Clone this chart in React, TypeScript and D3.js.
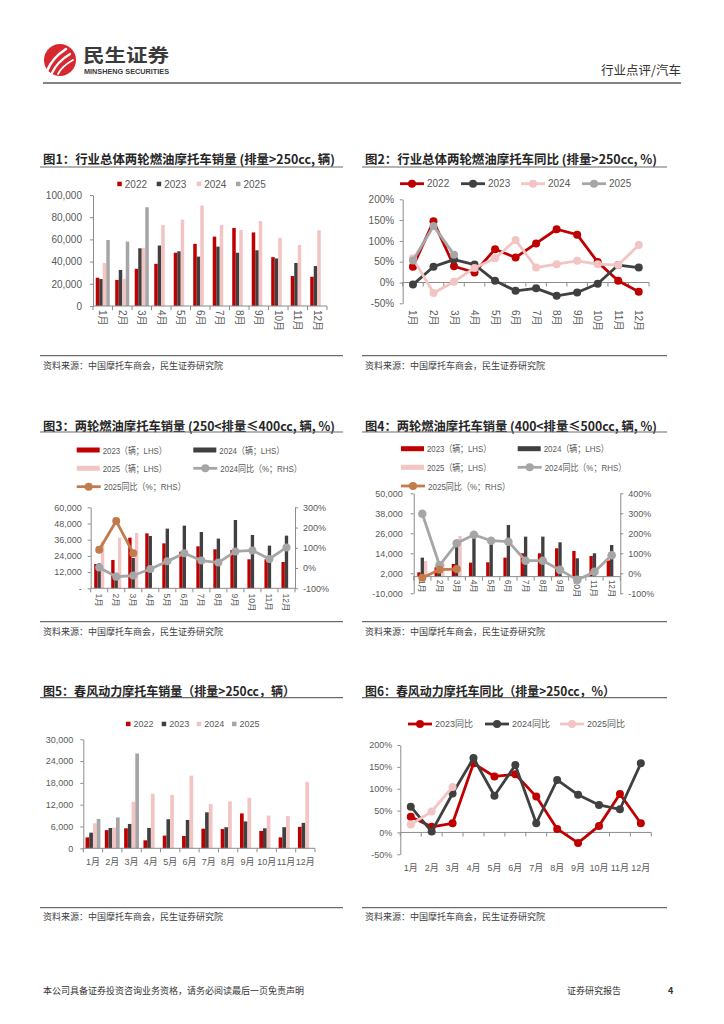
import * as d3 from 'd3';
import { useEffect, useRef } from 'react';

const months = ['1月', '2月', '3月', '4月', '5月', '6月', '7月', '8月', '9月', '10月', '11月', '12月'];

// 图1 行业总体 >250cc 销量 (辆)
const c1Years = ['2022', '2023', '2024', '2025'];
const c1v2022 = [25500, 23500, 33500, 38000, 48000, 56000, 62500, 70300, 66300, 44000, 27000, 26300];
const c1v2023 = [24300, 32500, 52000, 54500, 49300, 44500, 53500, 48000, 50200, 42800, 38800, 36000];
const c1v2024 = [38700, 24500, 52500, 73000, 77800, 90500, 73000, 68500, 76500, 61300, 55000, 68200];
const c1v2025 = [59500, 58000, 89000];
const c1Ticks = [0, 20000, 40000, 60000, 80000, 100000];

// 图2 行业总体同比 (%)
const c2y2022 = [38, 147, 39, 24, 80, 60, 94, 128, 115, 49, 4, -22];
const c2y2023 = [-5, 38, 55, 43, 4, -20, -14, -32, -24, -3, 42, 36];
const c2y2024 = [58, -25, 2, 35, 58, 102, 36, 44, 52, 44, 42, 90];
const c2y2025 = [53, 136, 67];
const pctTicks250 = [-50, 0, 50, 100, 150, 200];

// 图3 250<排量≤400cc
const c3v2023 = [18000, 21000, 37500, 40700, 33300, 27200, 31100, 28900, 28400, 21500, 21500, 19500];
const c3v2024 = [18500, 11500, 22500, 38800, 44200, 46400, 41700, 36800, 50600, 39500, 31600, 39000];
const c3v2025 = [34500, 37500, 41000];
const c3yoy2024 = [3, -43, -37, -5, 33, 73, 37, 27, 82, 87, 45, 102];
const c3yoy2025 = [90, 232, 73];
const c3LeftTicks = [0, 12000, 24000, 36000, 48000, 60000];
const c3RightTicks = [-100, 0, 100, 200, 300];

// 图4 400<排量≤500cc
const c4v2023 = [2600, 5600, 7600, 8400, 8600, 11400, 14000, 14000, 17000, 15400, 12400, 9700];
const c4v2024 = [11400, 7500, 18000, 24000, 22000, 31000, 24000, 24000, 20600, 11000, 14000, 19000];
const c4v2025 = [9400, 8500, 24400];
const c4yoy2024 = [298, 40, 150, 193, 163, 158, 63, 63, 17, -33, 8, 90];
const c4yoy2025 = [-22, 18, 21];
const c4LeftTicks = [-10000, 2000, 14000, 26000, 38000, 50000];
const c4RightTicks = [-100, 0, 100, 200, 300, 400];

// 图5 春风动力销量 (辆)
const c5v2022 = [3000, 5000, 5500, 2200, 3500, 3400, 5400, 5300, 9600, 4800, 3000, 5900];
const c5v2023 = [4300, 5600, 6700, 5600, 8000, 7800, 9900, 5800, 7400, 5500, 5800, 7000];
const c5v2024 = [6900, 5700, 12800, 15000, 14700, 20000, 12200, 12900, 13900, 9000, 8900, 18300];
const c5v2025 = [8100, 8500, 26100];
const c5Ticks = [0, 6000, 12000, 18000, 24000, 30000];

// 图6 春风动力同比 (%)
const c6yoy2023 = [36, 13, 21, 158, 128, 133, 82, 8, -24, 15, 88, 21];
const c6yoy2024 = [59, 2, 89, 170, 84, 154, 21, 120, 86, 63, 53, 158];
const c6yoy2025 = [18, 48, 104];

const RED = '#C00000';
const DARK = '#404040';
const PINK = '#F2C4C4';
const GREY = '#A6A6A6';
const BROWN = '#C27B4C';
const AXIS = '#8C8C8C';
const LABEL = '#595959';
const FONT = '"Liberation Sans", "Noto Sans CJK SC", sans-serif';
const CJK = '"Noto Sans CJK SC", sans-serif';

const fmtComma = d3
  .formatLocale({ decimal: '.', thousands: ',', grouping: [3], currency: ['', ''], minus: '-' })
  .format(',');
const fmtPct = (d: any) => `${d}%`;

const monthBand = (x0: number, x1: number, inner: number) =>
  d3.scaleBand<string>().domain(months).range([x0, x1]).paddingInner(inner).paddingOuter(inner / 2);

const styleAxis = (ax: any, fontSize: number) => {
  ax.attr('font-family', FONT).attr('font-size', fontSize);
  ax.select('.domain').attr('stroke', AXIS);
  ax.selectAll('line').attr('stroke', AXIS);
  ax.selectAll('text').attr('fill', LABEL);
};

const valueAxis = (g: any, side: 'left' | 'right', y: any, x: number, ticks: number[], fmt: any, pad: number, fs: number) => {
  const gen = side === 'left' ? d3.axisLeft(y) : d3.axisRight(y);
  gen.tickValues(ticks).tickFormat(fmt).tickSize(3).tickSizeOuter(0).tickPadding(pad);
  const ax = g.append('g').attr('transform', `translate(${x},0)`).call(gen);
  styleAxis(ax, fs);
};

const catAxis = (g: any, xb: any, yLine: number, labelY: number, rotate: boolean, fs: number) => {
  const [r0, r1] = xb.range();
  const step = xb.step();
  g.append('line').attr('x1', r0).attr('x2', r1).attr('y1', yLine).attr('y2', yLine).attr('stroke', AXIS);
  g.append('g')
    .selectAll('line')
    .data(d3.range(months.length + 1).map((i) => r0 + i * step))
    .enter()
    .append('line')
    .attr('x1', (d: number) => d)
    .attr('x2', (d: number) => d)
    .attr('y1', yLine)
    .attr('y2', yLine + 4)
    .attr('stroke', AXIS);
  const t = g
    .append('g')
    .selectAll('text')
    .data(months)
    .enter()
    .append('text')
    .text((d: string) => d)
    .attr('font-size', fs)
    .attr('font-family', FONT)
    .attr('fill', LABEL)
    .attr('dominant-baseline', 'central');
  const cx = (d: string) => xb(d) + xb.bandwidth() / 2;
  if (rotate) t.attr('transform', (d: string) => `translate(${cx(d)},${labelY}) rotate(90)`);
  else t.attr('x', cx).attr('y', labelY).attr('text-anchor', 'middle');
};

const bars = (g: any, xb: any, y: any, series: { values: number[]; color: string }[]) => {
  const inner = d3.scaleBand<number>().domain(d3.range(series.length)).range([0, xb.bandwidth()]);
  series.forEach((s, si) => {
    g.append('g')
      .selectAll('rect')
      .data(s.values)
      .enter()
      .append('rect')
      .attr('x', (_: number, i: number) => xb(months[i]) + inner(si))
      .attr('width', inner.bandwidth())
      .attr('y', (d: number) => Math.min(y(d), y(0)))
      .attr('height', (d: number) => Math.abs(y(0) - y(d)))
      .attr('fill', s.color);
  });
};

const lineSeries = (g: any, xb: any, y: any, values: number[], color: string, w: number, r: number) => {
  const cx = (i: number) => xb(months[i]) + xb.bandwidth() / 2;
  const line = d3
    .line<number>()
    .x((_, i) => cx(i))
    .y((d) => y(d));
  g.append('path')
    .attr('d', line(values))
    .attr('fill', 'none')
    .attr('stroke', color)
    .attr('stroke-width', w)
    .attr('stroke-linejoin', 'round');
  g.append('g')
    .selectAll('circle')
    .data(values)
    .enter()
    .append('circle')
    .attr('cx', (_: number, i: number) => cx(i))
    .attr('cy', (d: number) => y(d))
    .attr('r', r)
    .attr('fill', color);
};

const frame = (
  g: any,
  x0: number,
  x1: number,
  title: string,
  titleY: number,
  titleLen: number,
  ruleY: number,
  srcRuleY: number,
  srcY: number,
) => {
  g.append('text')
    .text(title)
    .attr('x', x0 + 3)
    .attr('y', titleY)
    .attr('dominant-baseline', 'central')
    .attr('font-family', CJK)
    .attr('font-weight', 700)
    .attr('font-size', 12.5)
    .attr('fill', '#262626')
    .attr('textLength', titleLen)
    .attr('lengthAdjust', 'spacingAndGlyphs');
  [ruleY, srcRuleY].forEach((yy) =>
    g.append('line').attr('x1', x0).attr('x2', x1).attr('y1', yy).attr('y2', yy).attr('stroke', '#6b6b6b').attr('stroke-width', 1.2),
  );
  g.append('text')
    .text('资料来源：中国摩托车商会，民生证券研究院')
    .attr('x', x0 + 3)
    .attr('y', srcY)
    .attr('dominant-baseline', 'central')
    .attr('font-family', CJK)
    .attr('font-size', 9)
    .attr('fill', '#404040');
};

const squareLegend = (g: any, items: { label: string; color: string; x: number }[], y: number, fs: number) => {
  items.forEach((it) => {
    g.append('rect').attr('x', it.x).attr('y', y - 2.3).attr('width', 4.5).attr('height', 4.5).attr('fill', it.color);
    g.append('text')
      .text(it.label)
      .attr('x', it.x + 7.5)
      .attr('y', y)
      .attr('dominant-baseline', 'central')
      .attr('font-family', FONT)
      .attr('font-size', fs)
      .attr('fill', LABEL);
  });
};

const lineLegend = (
  g: any,
  items: { label: string; color: string; x: number; y: number; len?: number }[],
  fs: number,
  w: number,
  r: number,
) => {
  items.forEach((it) => {
    g.append('line').attr('x1', it.x).attr('x2', it.x + 24).attr('y1', it.y).attr('y2', it.y).attr('stroke', it.color).attr('stroke-width', w);
    g.append('circle').attr('cx', it.x + 12).attr('cy', it.y).attr('r', r).attr('fill', it.color);
    const t = g
      .append('text')
      .text(it.label)
      .attr('x', it.x + 27)
      .attr('y', it.y)
      .attr('dominant-baseline', 'central')
      .attr('font-family', FONT)
      .attr('font-size', fs)
      .attr('fill', LABEL);
    if (it.len) t.attr('textLength', it.len).attr('lengthAdjust', 'spacingAndGlyphs');
  });
};

const barLegend = (g: any, items: { label: string; color: string; x: number; y: number; len: number }[]) => {
  items.forEach((it) => {
    g.append('rect').attr('x', it.x).attr('y', it.y - 2.5).attr('width', 23).attr('height', 5).attr('fill', it.color);
    g.append('text')
      .text(it.label)
      .attr('x', it.x + 26)
      .attr('y', it.y)
      .attr('dominant-baseline', 'central')
      .attr('font-family', FONT)
      .attr('font-size', 9.5)
      .attr('fill', LABEL)
      .attr('textLength', it.len)
      .attr('lengthAdjust', 'spacingAndGlyphs');
  });
};

const App = () => {
  const ref = useRef<SVGSVGElement>(null);

  useEffect(() => {
    const svg = d3.select(ref.current);
    svg.selectAll('*').remove();

    // header
    const hd = svg.append('g');
    hd.append('circle').attr('cx', 60).attr('cy', 60).attr('r', 16).attr('fill', '#D7282F');
    ['M47 71 Q52 58 66 49', 'M52 73 Q57 62 70 54', 'M58 74 Q62 66 73 60'].forEach((p, i) =>
      hd.append('path').attr('d', p).attr('fill', 'none').attr('stroke', '#fff').attr('stroke-width', 2.6 - i * 0.4).attr('stroke-linecap', 'round'),
    );
    hd.append('text')
      .text('民生证券')
      .attr('x', 83)
      .attr('y', 54)
      .attr('dominant-baseline', 'central')
      .attr('font-family', CJK)
      .attr('font-weight', 700)
      .attr('font-size', 18)
      .attr('fill', '#3a3a3a')
      .attr('textLength', 86)
      .attr('lengthAdjust', 'spacingAndGlyphs');
    hd.append('text')
      .text('MINSHENG SECURITIES')
      .attr('x', 84)
      .attr('y', 71.5)
      .attr('dominant-baseline', 'central')
      .attr('font-family', FONT)
      .attr('font-weight', 700)
      .attr('font-size', 6.8)
      .attr('fill', '#3a3a3a')
      .attr('textLength', 85)
      .attr('lengthAdjust', 'spacingAndGlyphs');
    hd.append('text')
      .text('行业点评/汽车')
      .attr('x', 681)
      .attr('y', 69)
      .attr('text-anchor', 'end')
      .attr('dominant-baseline', 'central')
      .attr('font-family', CJK)
      .attr('font-size', 12.5)
      .attr('fill', '#333');
    hd.append('line').attr('x1', 43).attr('x2', 681).attr('y1', 83).attr('y2', 83).attr('stroke', '#595959').attr('stroke-width', 1.5);

    // 图1
    {
      const g = svg.append('g');
      frame(g, 40, 343, '图1：行业总体两轮燃油摩托车销量 (排量>250cc, 辆)', 158, 292, 167, 355.7, 365);
      const xb = monthBand(93, 327, 0.28);
      const y = d3.scaleLinear([0, 100000], [306, 195]);
      bars(g, xb, y, [
        { values: c1v2022, color: RED },
        { values: c1v2023, color: DARK },
        { values: c1v2024, color: PINK },
        { values: c1v2025, color: GREY },
      ]);
      valueAxis(g, 'left', y, 93, c1Ticks, fmtComma, 8, 10);
      catAxis(g, xb, 306, 310, true, 10);
      squareLegend(
        g,
        c1Years.map((label, i) => ({ label, color: [RED, DARK, PINK, GREY][i], x: [117.3, 156.7, 196.7, 236][i] })),
        184,
        10,
      );
    }

    // 图2
    {
      const g = svg.append('g');
      frame(g, 362, 667, '图2：行业总体两轮燃油摩托车同比 (排量>250cc, %)', 158, 292, 167, 355.7, 365);
      const xb = monthBand(402.7, 649, 0);
      const y = d3.scaleLinear([-50, 200], [303.3, 199.3]);
      valueAxis(g, 'left', y, 402.7, pctTicks250, fmtPct, 5.5, 10);
      catAxis(g, xb, y(0), 310, true, 10);
      lineSeries(g, xb, y, c2y2022, RED, 2.8, 4);
      lineSeries(g, xb, y, c2y2023, DARK, 2.8, 4);
      lineSeries(g, xb, y, c2y2024, PINK, 2.8, 4);
      lineSeries(g, xb, y, c2y2025, GREY, 2.8, 4);
      lineLegend(
        g,
        c1Years.map((label, i) => ({ label, color: [RED, DARK, PINK, GREY][i], x: [400, 461, 521, 582][i], y: 183.7 })),
        10,
        2.8,
        4,
      );
    }

    // 图3
    {
      const g = svg.append('g');
      frame(g, 40, 343, '图3：两轮燃油摩托车销量 (250<排量≤400cc, 辆, %)', 425, 292, 432, 621.7, 631.7);
      const xb = monthBand(90.7, 295, 0.41);
      const yL = d3.scaleLinear([0, 60000], [588.3, 507.3]);
      const yR = d3.scaleLinear([-100, 300], [588.3, 507.3]);
      bars(g, xb, yL, [
        { values: c3v2023, color: RED },
        { values: c3v2024, color: DARK },
        { values: c3v2025, color: PINK },
      ]);
      valueAxis(g, 'left', yL, 90.7, c3LeftTicks, (d: any) => (d === 0 ? '-' : fmtComma(d)), 6, 9);
      valueAxis(g, 'right', yR, 295, c3RightTicks, fmtPct, 5, 9);
      catAxis(g, xb, 588.3, 593.5, true, 8.5);
      lineSeries(g, xb, yR, c3yoy2024, GREY, 2.8, 4);
      lineSeries(g, xb, yR, c3yoy2025, BROWN, 2.8, 4);
      barLegend(g, [
        { label: '2023（辆；LHS）', color: RED, x: 76.7, y: 450, len: 64 },
        { label: '2024（辆；LHS）', color: DARK, x: 193.3, y: 450, len: 65 },
        { label: '2025（辆；LHS）', color: PINK, x: 76.7, y: 468.3, len: 64 },
      ]);
      lineLegend(
        g,
        [
          { label: '2024同比（%；RHS）', color: GREY, x: 193.3, y: 468.3, len: 81.5 },
          { label: '2025同比（%；RHS）', color: BROWN, x: 76.7, y: 486.7, len: 82 },
        ],
        9.5,
        2.8,
        4,
      );
    }

    // 图4
    {
      const g = svg.append('g');
      frame(g, 362, 667, '图4：两轮燃油摩托车销量 (400<排量≤500cc, 辆, %)', 425, 292, 432, 621.7, 631.7);
      const xb = monthBand(413.7, 620.3, 0.42);
      const yL = d3.scaleLinear([-10000, 50000], [593.3, 493.3]);
      const yR = d3.scaleLinear([-100, 400], [593.3, 493.3]);
      bars(g, xb, yL, [
        { values: c4v2023, color: RED },
        { values: c4v2024, color: DARK },
        { values: c4v2025, color: PINK },
      ]);
      valueAxis(g, 'left', yL, 413.7, c4LeftTicks, fmtComma, 8, 9);
      valueAxis(g, 'right', yR, 620.3, c4RightTicks, fmtPct, 5, 9);
      catAxis(g, xb, yL(0), yL(0) + 3, true, 8.5);
      lineSeries(g, xb, yR, c4yoy2024, GREY, 2.8, 4.3);
      lineSeries(g, xb, yR, c4yoy2025, BROWN, 2.8, 4);
      barLegend(g, [
        { label: '2023（辆；LHS）', color: RED, x: 401, y: 448.7, len: 64 },
        { label: '2024（辆；LHS）', color: DARK, x: 517.7, y: 448.7, len: 65 },
        { label: '2025（辆；LHS）', color: PINK, x: 401, y: 467.3, len: 64 },
      ]);
      lineLegend(
        g,
        [
          { label: '2024同比（%；RHS）', color: GREY, x: 517.7, y: 467.3, len: 81.5 },
          { label: '2025同比（%；RHS）', color: BROWN, x: 401, y: 486, len: 82 },
        ],
        9.5,
        2.8,
        4,
      );
    }

    // 图5
    {
      const g = svg.append('g');
      frame(g, 40, 343, '图5：春风动力摩托车销量（排量>250cc，辆）', 690.7, 252, 697.7, 907.7, 916.7);
      const xb = monthBand(83.3, 315, 0.23);
      const y = d3.scaleLinear([0, 30000], [848.3, 739.3]);
      bars(g, xb, y, [
        { values: c5v2022, color: RED },
        { values: c5v2023, color: DARK },
        { values: c5v2024, color: PINK },
        { values: c5v2025, color: GREY },
      ]);
      valueAxis(g, 'left', y, 83.3, c5Ticks, fmtComma, 7, 9);
      catAxis(g, xb, 848.3, 862, false, 9);
      squareLegend(
        g,
        c1Years.map((label, i) => ({ label, color: [RED, DARK, PINK, GREY][i], x: [126, 161.7, 196.7, 232][i] })),
        724,
        9,
      );
    }

    // 图6
    {
      const g = svg.append('g');
      frame(g, 362, 667, '图6：春风动力摩托车同比（排量>250cc，%）', 690, 250, 697.7, 907.7, 916.7);
      const xb = monthBand(400.3, 651.3, 0);
      const y = d3.scaleLinear([-50, 200], [854.3, 745]);
      valueAxis(g, 'left', y, 400.3, pctTicks250, fmtPct, 5, 9);
      catAxis(g, xb, y(0), 868, false, 9);
      lineSeries(g, xb, y, c6yoy2023, RED, 2.8, 4);
      lineSeries(g, xb, y, c6yoy2024, DARK, 2.8, 4);
      lineSeries(g, xb, y, c6yoy2025, PINK, 2.8, 4);
      lineLegend(
        g,
        [
          { label: '2023同比', color: RED, x: 408, y: 724 },
          { label: '2024同比', color: DARK, x: 485, y: 724 },
          { label: '2025同比', color: PINK, x: 560, y: 724 },
        ],
        9,
        2.8,
        4,
      );
    }

    // footer
    const ft = svg.append('g').attr('font-family', CJK).attr('font-size', 9).attr('fill', '#333');
    ft.append('text').text('本公司具备证券投资咨询业务资格，请务必阅读最后一页免责声明').attr('x', 43).attr('y', 990).attr('dominant-baseline', 'central');
    ft.append('text').text('证券研究报告').attr('x', 567).attr('y', 990).attr('dominant-baseline', 'central');
    ft.append('text').text('4').attr('x', 668).attr('y', 990).attr('dominant-baseline', 'central').attr('font-weight', 700);
  }, []);

  return (
    <div style={{ position: 'absolute', left: 0, top: 0 }}>
      <svg ref={ref} width={724} height={1024} viewBox="0 0 724 1024" style={{ display: 'block', background: '#fff' }} />
    </div>
  );
};

export default App;
